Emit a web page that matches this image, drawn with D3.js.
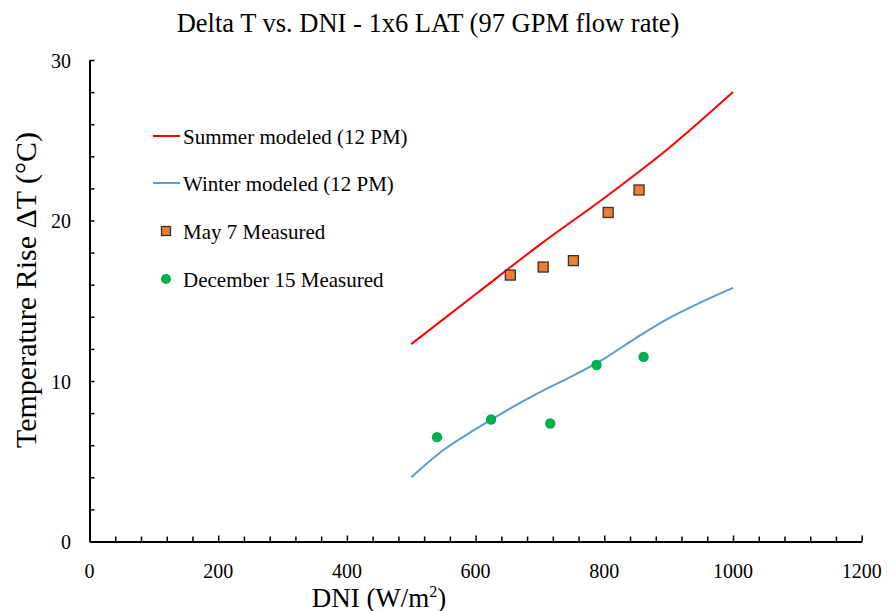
<!DOCTYPE html>
<html><head><meta charset="utf-8">
<script src="https://cdn.jsdelivr.net/npm/d3@7"></script>
<style>body{margin:0;background:#fff;} text{font-family:"Liberation Serif","Times New Roman",serif;}</style>
</head><body><svg id="c" width="895" height="611"></svg>
<script>
const summerDNI = [500, 600, 700, 800, 900, 1000];
const summerDT  = [12.3, 15.4, 18.5, 21.4, 24.5, 28.0];
const winterDNI = [500, 550, 600, 650, 700, 750, 800, 850, 900, 950, 1000];
const winterDT  = [4.0, 5.7, 7.0, 8.2, 9.3, 10.3, 11.4, 12.7, 13.9, 14.9, 15.8];
const mayDNI = [654, 705, 752, 806, 854];
const mayDT  = [16.6, 17.1, 17.5, 20.5, 21.9];
const decDNI = [540, 624, 716, 788, 861];
const decDT  = [6.5, 7.6, 7.35, 11.0, 11.5];
const xTicks = [0, 200, 400, 600, 800, 1000, 1200];
const yTicks = [0, 10, 20, 30];
const legendLabels = ["Summer modeled (12 PM)", "Winter modeled (12 PM)", "May 7 Measured", "December 15 Measured"];

const svg = d3.select("#c");
const x = d3.scaleLinear().domain([0, 1200]).range([89.5, 861.7]);
const y = d3.scaleLinear().domain([0, 30]).range([541.5, 60]);

// axes
const xAxis = d3.axisBottom(x).tickValues(d3.range(0, 1201, 40)).tickSize(-5).tickFormat("").tickSizeOuter(0);
const gx = svg.append("g").attr("transform", `translate(0,${y(0)})`).call(xAxis);
const yAxis = d3.axisLeft(y).tickValues(d3.range(0, 31, 2)).tickSize(-5).tickFormat("").tickSizeOuter(0);
const gy = svg.append("g").attr("transform", `translate(${x(0)},0)`).call(yAxis);
[gx, gy].forEach(g => {
  g.select(".domain").attr("stroke", "#000").attr("stroke-width", 2);
  g.selectAll(".tick line").attr("stroke", "#000").attr("stroke-width", 1.5);
});
gx.selectAll(".tick line").filter(d => d % 200 === 0).attr("y2", -6);

svg.append("g").selectAll("text").data(xTicks).join("text")
  .attr("x", d => x(d)).attr("y", 578).attr("text-anchor", "middle")
  .attr("font-size", 20).text(d => d);
svg.append("g").selectAll("text").data(yTicks).join("text")
  .attr("x", 71).attr("y", d => y(d) + 7.5).attr("text-anchor", "end")
  .attr("font-size", 20).text(d => d);

// title
svg.append("text").attr("x", 428).attr("y", 32).attr("text-anchor", "middle")
  .attr("font-size", 26.5).text("Delta T vs. DNI - 1x6 LAT (97 GPM flow rate)");
// axis titles
const xl = svg.append("text").attr("x", 379).attr("y", 606.5).attr("text-anchor", "middle").attr("font-size", 27);
xl.append("tspan").text("DNI (W/m");
xl.append("tspan").attr("font-size", 16).attr("dy", -10).text("2");
xl.append("tspan").attr("dy", 10).text(")");
svg.append("text").attr("transform", "translate(36,290) rotate(-90)").attr("text-anchor", "middle")
  .attr("font-size", 30).text("Temperature Rise \u0394T (\u00B0C)");

// lines
const line = d3.line().curve(d3.curveMonotoneX).x(d => x(d[0])).y(d => y(d[1]));
svg.append("path").datum(summerDNI.map((d, i) => [d, summerDT[i]]))
  .attr("d", line).attr("fill", "none").attr("stroke", "#FF0000").attr("stroke-width", 2);
svg.append("path").datum(winterDNI.map((d, i) => [d, winterDT[i]]))
  .attr("d", line).attr("fill", "none").attr("stroke", "#5B9BD5").attr("stroke-width", 2);

// points
svg.append("g").selectAll("rect").data(mayDNI.map((d, i) => [d, mayDT[i]])).join("rect")
  .attr("x", d => x(d[0]) - 5).attr("y", d => y(d[1]) - 5).attr("width", 10).attr("height", 10)
  .attr("fill", "#ED7D31").attr("stroke", "#333").attr("stroke-width", 1.3);
svg.append("g").selectAll("circle").data(decDNI.map((d, i) => [d, decDT[i]])).join("circle")
  .attr("cx", d => x(d[0])).attr("cy", d => y(d[1])).attr("r", 5.2).attr("fill", "#00B050");

// legend
const ly = [136, 183, 231, 279];
svg.append("line").attr("x1", 153).attr("x2", 180).attr("y1", ly[0]).attr("y2", ly[0]).attr("stroke", "#FF0000").attr("stroke-width", 2);
svg.append("line").attr("x1", 153).attr("x2", 180).attr("y1", ly[1]).attr("y2", ly[1]).attr("stroke", "#5B9BD5").attr("stroke-width", 2);
svg.append("rect").attr("x", 161.5).attr("y", ly[2] - 4.5).attr("width", 9).attr("height", 9)
  .attr("fill", "#ED7D31").attr("stroke", "#333").attr("stroke-width", 1.3);
svg.append("circle").attr("cx", 166).attr("cy", ly[3]).attr("r", 5).attr("fill", "#00B050");
svg.append("g").selectAll("text").data(legendLabels).join("text")
  .attr("x", 183).attr("y", (d, i) => ly[i] + 8).attr("font-size", 21).text(d => d);
</script></body></html>
